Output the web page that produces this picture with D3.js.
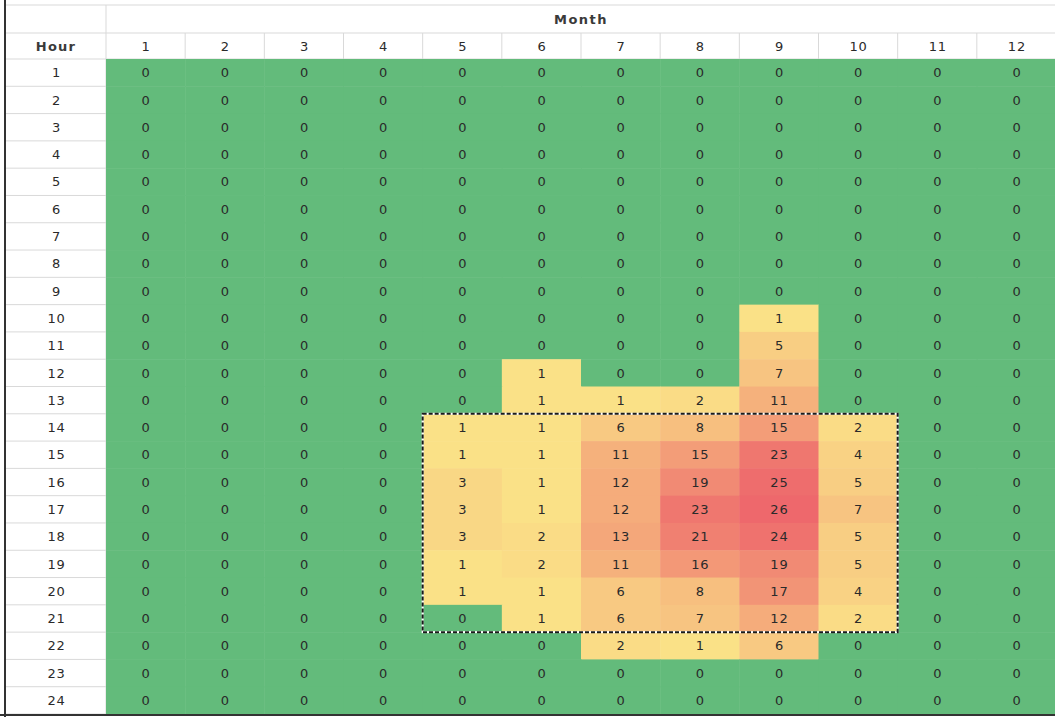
<!DOCTYPE html>
<html><head><meta charset="utf-8">
<script src="https://cdn.jsdelivr.net/npm/d3@7"></script>
<style>
html,body{margin:0;padding:0;background:#fff;}
svg{display:block;}
text{font-family:"DejaVu Sans",Verdana,sans-serif;}
</style></head>
<body>
<svg id="chart" width="1055" height="717"></svg>
<script>
const months = [1,2,3,4,5,6,7,8,9,10,11,12];
const hours = d3.range(1,25);
// counts[hour-1][month-1]
const counts = [
 [0,0,0,0,0,0,0,0,0,0,0,0],
 [0,0,0,0,0,0,0,0,0,0,0,0],
 [0,0,0,0,0,0,0,0,0,0,0,0],
 [0,0,0,0,0,0,0,0,0,0,0,0],
 [0,0,0,0,0,0,0,0,0,0,0,0],
 [0,0,0,0,0,0,0,0,0,0,0,0],
 [0,0,0,0,0,0,0,0,0,0,0,0],
 [0,0,0,0,0,0,0,0,0,0,0,0],
 [0,0,0,0,0,0,0,0,0,0,0,0],
 [0,0,0,0,0,0,0,0,1,0,0,0],
 [0,0,0,0,0,0,0,0,5,0,0,0],
 [0,0,0,0,0,1,0,0,7,0,0,0],
 [0,0,0,0,0,1,1,2,11,0,0,0],
 [0,0,0,0,1,1,6,8,15,2,0,0],
 [0,0,0,0,1,1,11,15,23,4,0,0],
 [0,0,0,0,3,1,12,19,25,5,0,0],
 [0,0,0,0,3,1,12,23,26,7,0,0],
 [0,0,0,0,3,2,13,21,24,5,0,0],
 [0,0,0,0,1,2,11,16,19,5,0,0],
 [0,0,0,0,1,1,6,8,17,4,0,0],
 [0,0,0,0,0,1,6,7,12,2,0,0],
 [0,0,0,0,0,0,2,1,6,0,0,0],
 [0,0,0,0,0,0,0,0,0,0,0,0],
 [0,0,0,0,0,0,0,0,0,0,0,0]
];
// highlighted (copied) range: months 5-10, hours 14-21
const selMonths = [5,10];
const selHours = [14,21];

const svg = d3.select("#chart");
const L = {left: 6, colStart: 106, right: 1056, top: 5, monthRowB: 33, headerB: 59, bottom: 714};

const x = d3.scaleBand().domain(months).range([L.colStart, L.right]);
const y = d3.scaleBand().domain(hours).range([L.headerB, L.bottom]);

const nonZero = counts.flat().filter(v => v > 0);
const heat = d3.scaleLinear().domain([d3.min(nonZero), d3.max(nonZero)])
  .range(["#FAE187", "#EE686C"]).interpolate(d3.interpolateRgb);
const color = v => v === 0 ? "#63BB7B" : heat(v);

const cells = [];
hours.forEach((h,i) => months.forEach((m,j) => cells.push({h, m, v: counts[i][j]})));

const grid = "#d9d9d9";
const g0 = svg.append("g");
g0.append("line").attr("x1",L.left).attr("x2",L.right).attr("y1",L.top).attr("y2",L.top).attr("stroke",grid);
g0.append("line").attr("x1",L.left).attr("x2",L.right).attr("y1",L.monthRowB).attr("y2",L.monthRowB).attr("stroke",grid);
g0.append("line").attr("x1",L.left).attr("x2",L.right).attr("y1",L.headerB).attr("y2",L.headerB).attr("stroke",grid);
g0.append("line").attr("x1",L.colStart).attr("x2",L.colStart).attr("y1",L.top).attr("y2",L.bottom).attr("stroke",grid);
months.forEach(m => {
  g0.append("line").attr("x1",x(m)+x.bandwidth()).attr("x2",x(m)+x.bandwidth())
    .attr("y1",L.monthRowB).attr("y2",L.headerB).attr("stroke",grid);
});
hours.forEach(h => {
  g0.append("line").attr("x1",L.left).attr("x2",L.colStart).attr("y1",y(h)+y.bandwidth()).attr("y2",y(h)+y.bandwidth()).attr("stroke",grid);
});

// cells
svg.append("g").selectAll("rect").data(cells).join("rect")
  .attr("x", d => x(d.m)).attr("y", d => y(d.h))
  .attr("width", x.bandwidth()+0.5).attr("height", y.bandwidth()+0.5)
  .attr("fill", d => color(d.v));

const fs = 13;
svg.append("g").selectAll("text").data(cells).join("text")
  .attr("x", d => x(d.m) + x.bandwidth()/2 + 0.5)
  .attr("y", d => y(d.h) + y.bandwidth()/2)
  .attr("dy","0.36em").attr("text-anchor","middle")
  .attr("font-size", fs).attr("letter-spacing", "0.8px").attr("fill","#2a2a2a")
  .text(d => d.v);

// hour labels
svg.append("g").selectAll("text").data(hours).join("text")
  .attr("x", (L.left+L.colStart)/2 + 0.5).attr("y", d => y(d) + y.bandwidth()/2)
  .attr("dy","0.36em").attr("text-anchor","middle")
  .attr("font-size", fs).attr("letter-spacing", "0.8px").attr("fill","#2a2a2a").text(d => d);

// month labels
svg.append("g").selectAll("text").data(months).join("text")
  .attr("x", d => x(d) + x.bandwidth()/2 + 0.5).attr("y", (L.monthRowB+L.headerB)/2)
  .attr("dy","0.36em").attr("text-anchor","middle")
  .attr("font-size", fs).attr("letter-spacing", "0.8px").attr("fill","#2a2a2a").text(d => d);

svg.append("text").attr("x", (L.colStart+L.right)/2).attr("y", (L.top+L.monthRowB)/2)
  .attr("dy","0.36em").attr("text-anchor","middle")
  .attr("font-size", fs).attr("letter-spacing", "1.5px").attr("font-weight","bold").attr("fill","#3a3a3a").text("Month");
svg.append("text").attr("x", (L.left+L.colStart)/2).attr("y", (L.monthRowB+L.headerB)/2)
  .attr("dy","0.36em").attr("text-anchor","middle")
  .attr("font-size", fs).attr("letter-spacing", "1.2px").attr("font-weight","bold").attr("fill","#3a3a3a").text("Hour");

// selection marquee
const sx0 = x(selMonths[0]), sx1 = x(selMonths[1]) + x.bandwidth();
const sy0 = y(selHours[0]), sy1 = y(selHours[1]) + y.bandwidth();
svg.append("rect").attr("x",sx0).attr("y",sy0).attr("width",sx1-sx0).attr("height",sy1-sy0)
  .attr("fill","none").attr("stroke","#fff").attr("stroke-width",2);
svg.append("rect").attr("x",sx0).attr("y",sy0).attr("width",sx1-sx0).attr("height",sy1-sy0)
  .attr("fill","none").attr("stroke","#1a1a1a").attr("stroke-width",2).attr("stroke-dasharray","4,2");

// outer dark borders (left & bottom)
svg.append("line").attr("x1",L.left-1).attr("x2",L.left-1).attr("y1",0).attr("y2",717).attr("stroke","#333").attr("stroke-width",2);
svg.append("line").attr("x1",0).attr("x2",L.right).attr("y1",L.bottom+1).attr("y2",L.bottom+1).attr("stroke","#333").attr("stroke-width",2);
</script>
</body></html>
